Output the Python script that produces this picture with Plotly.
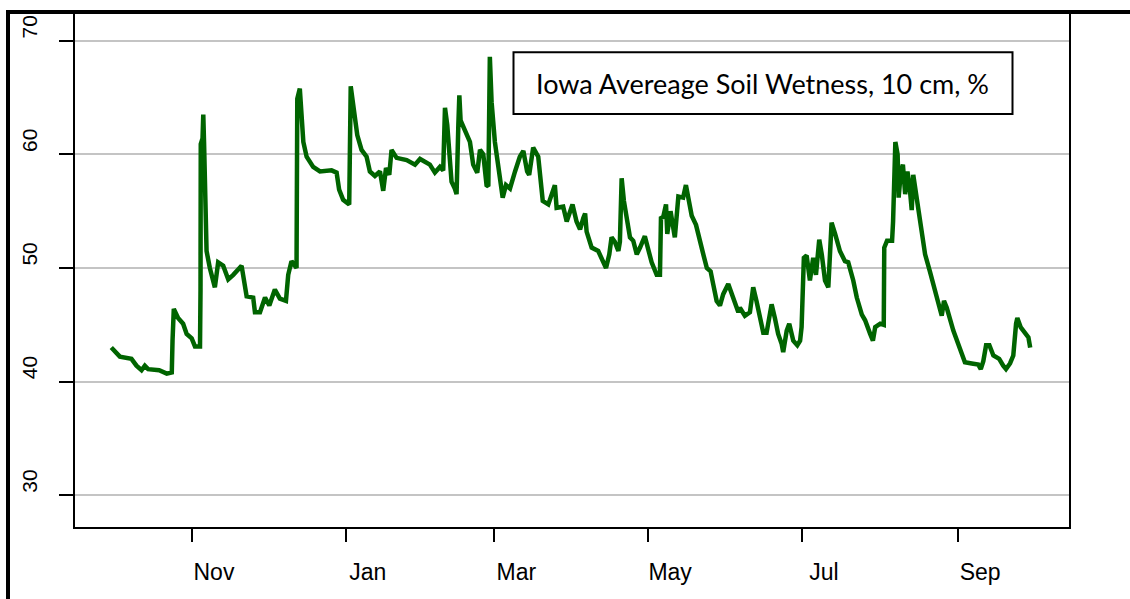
import pandas as pd
import plotly.graph_objects as go

# ---- data ----
start_date = "2018-09-30"
day_offsets = [
    0, 3.4, 8, 10, 12, 13.3, 14.6, 19, 22, 24, 24.3, 24.8, 26.5, 28.5, 29.9, 31.9, 33.2, 35.2,
    35.4, 35.5, 36.2, 36.5, 36.8, 37.3, 37.6, 37.8, 39.1, 41.1, 42.4, 44.4, 46.4, 48.4, 51.7,
    53.7, 56.3, 57, 59, 61, 62.7, 64.9, 66.9, 69.3, 70.2, 71.5, 73.5, 73.8, 74.8, 75.5, 76.2,
    77.5, 80.1, 82.8, 87.4, 89.4, 90.4, 92, 94.4, 95, 96.3, 97.6, 99.3, 101.3, 102.6, 104.6,
    106.6, 107.9, 109, 110.3, 111.2, 113.2, 117.2, 120.5, 122.5, 126.4, 128.4, 130.4, 131.7,
    132.4, 133.3, 134.1, 135, 136.3, 137, 137.7, 138.1, 138.6, 140.3, 142.3, 143.6, 145.2,
    146.3, 147.6, 148.9, 149.6, 150.2, 150.9, 152.2, 153.5, 155.3, 156.6, 158.2, 160.2, 162.1,
    163.5, 165, 165.8, 167.4, 169.4, 171.2, 173.4, 176, 176.7, 179.3, 180.7, 183, 184.6, 186,
    187.3, 188, 188.6, 190.6, 193.2, 195.2, 196.3, 197.6, 198.5, 199.8, 201.2, 201.8, 202.5,
    203.4, 204.5, 205.8, 207.1, 208.5, 209.8, 211.7, 213.1, 214.4, 216.4, 217.7, 218.1, 219,
    220.1, 220.6, 221.9, 223.6, 225, 226.9, 228, 228.9, 230.3, 232, 233.6, 234.9, 236.3, 237.8,
    238.8, 240.2, 241.5, 242.8, 244.8, 246.2, 247.5, 248.8, 249.4, 251.4, 253.4, 254.7, 256,
    257.4, 258.7, 260, 262, 263.3, 264.6, 266, 266.6, 268, 269, 270.6, 272.2, 273.3, 273.9,
    274.8, 275.9, 277.2, 278.5, 279.6, 280.9, 281.9, 283.2, 284.5, 285.2, 285.8, 287.2, 289.1,
    291.1, 292.4, 294.4, 295.8, 297.8, 299.1, 301.1, 302.2, 303.1, 305.1, 306.5, 306.7, 307.8,
    309.8, 310.2, 310.7, 311.1, 312, 312.4, 313.3, 314.1, 315, 315.9, 316.7, 317.6, 318.2,
    319.3, 320.2, 321.5, 322.9, 324.8, 326.2, 328.1, 329.5, 330.4, 331.5, 334.1, 336.8, 338.7,
    341.4, 344, 345, 346, 347.1, 348.4, 350, 352.3, 353.9, 355, 356.6, 357.9, 359, 359.5,
    360.8, 362.6, 363.9, 364.6,
]
wetness = [
    43.0, 42.2, 42.0, 41.4, 41.0, 41.4, 41.1, 41.0, 40.7, 40.8, 43.6, 46.4, 45.6, 45.1, 44.2, 43.8, 43.1, 43.1,
    48.0, 60.9, 61.4, 63.5, 61.1, 56.8, 54.7, 51.5, 50.0, 48.3, 50.5, 50.2, 49.0, 49.4, 50.2,
    47.5, 47.4, 46.1, 46.1, 47.4, 46.7, 48.1, 47.3, 47.1, 49.4, 50.6, 50.0, 64.9, 65.8, 63.8, 61.1,
    59.8, 58.9, 58.5, 58.6, 58.4, 56.9, 56.0, 55.6, 66.0, 64.1, 61.7, 60.4, 59.8, 58.5, 58.1,
    58.5, 56.8, 58.8, 58.2, 60.4, 59.7, 59.5, 59.1, 59.6, 59.1, 58.4, 58.9, 58.6,
    64.1, 62.6, 60.0, 57.6, 57.0, 56.5, 62.6, 65.2, 63.0, 62.2, 61.1, 59.1, 58.4,
    60.4, 60.0, 57.3, 57.2, 68.6, 64.6, 61.1, 58.7, 56.2, 57.3, 57.0, 58.5, 59.8,
    60.3, 58.5, 58.2, 60.6, 59.8, 55.9, 55.6, 57.3, 55.3, 55.4, 54.1, 55.6, 54.1, 53.4,
    54.4, 54.8, 53.2, 51.8, 51.5, 50.5, 50.0, 51.2, 52.7, 52.3, 51.5, 52.3, 57.9,
    55.9, 54.4, 52.7, 52.4, 51.2, 51.8, 52.8, 51.6, 50.5, 49.4, 49.4, 54.4, 54.5,
    55.6, 53.0, 55.0, 52.7, 56.3, 56.2, 57.3, 56.2, 54.6, 53.8, 52.1, 51.2, 50.0, 49.7,
    48.6, 47.1, 46.7, 47.7, 48.6, 47.7, 47.1, 46.1, 46.5, 45.8, 46.1, 48.3, 47.1,
    45.4, 44.3, 44.3, 46.8, 45.6, 44.2, 43.3, 42.6, 44.5, 45.1, 43.6, 43.2, 43.6, 44.8,
    50.9, 51.1, 48.9, 50.9, 49.4, 52.5, 51.2, 48.9, 48.3, 51.2, 54.0, 53.0, 51.5,
    50.6, 50.5, 48.9, 47.4, 45.9, 45.4, 44.2, 43.6, 44.8, 45.1, 45.0, 51.8, 52.4,
    52.4, 54.1, 57.6, 61.1, 60.0, 56.2, 58.5, 59.1, 56.5, 58.5, 57.3, 55.1, 58.2,
    56.5, 55.3, 53.2, 51.2, 49.7, 48.6, 47.1, 45.8, 47.1, 46.5, 44.5, 43.0, 41.7,
    41.6, 41.5, 41.1, 41.8, 43.2, 43.2, 42.3, 42.0, 41.4, 41.1, 41.6, 42.3, 45.1, 45.6,
    44.8, 44.2, 43.9, 43.0,
]
month_tick_dates = ["2018-11-01", "2019-01-01", "2019-03-01", "2019-05-01", "2019-07-01", "2019-09-01"]
month_tick_labels = ["Nov", "Jan", "Mar", "May", "Jul", "Sep"]
y_tick_values = [30, 40, 50, 60, 70]
title_text = "Iowa Avereage Soil Wetness, 10 cm, %"

# ---- figure ----
start = pd.Timestamp(start_date)
dates = [start + pd.Timedelta(days=d) for d in day_offsets]

fig = go.Figure()
fig.add_trace(go.Scatter(
    x=dates, y=wetness, mode="lines",
    line=dict(color="#006400", width=4.5),
    showlegend=False, hoverinfo="x+y",
))

W, H = 1130, 599
L, R, T, B = 75, 1069, 10, 527


def px_x(p):
    return (p - L) / (R - L)


def px_y(p):
    return (B - p) / (B - T)


tick_font = dict(family="Liberation Sans, Arial, sans-serif", size=21, color="black")

fig.update_layout(
    width=W, height=H,
    margin=dict(l=L, r=W - R, t=T, b=H - B, pad=0),
    paper_bgcolor="white", plot_bgcolor="white",
    xaxis=dict(
        type="date",
        range=[start - pd.Timedelta(days=14.4), start + pd.Timedelta(days=380.0)],
        tickvals=month_tick_dates, ticktext=month_tick_labels,
        ticks="outside", ticklen=13, tickwidth=1.5, tickcolor="black",
        showline=True, mirror=True, linecolor="black", linewidth=2,
        showgrid=False, zeroline=False,
        tickfont=dict(family="Liberation Sans, Arial, sans-serif", size=23, color="black"),
        ticklabelshift=22, ticklabelstandoff=10,
    ),
    yaxis=dict(
        range=[27.2, 72.54],
        tickvals=y_tick_values,
        ticks="outside", ticklen=14, tickwidth=1.5, tickcolor="black",
        showline=True, mirror=True, linecolor="black", linewidth=2,
        showgrid=True, gridcolor="#c4c4c4", gridwidth=1.5, zeroline=False,
        tickangle=-90, tickfont=tick_font,
        ticklabelshift=-11, ticklabelstandoff=14,
    ),
    shapes=[
        # outer frame (top and left edges)
        dict(type="line", xref="paper", yref="paper",
             x0=px_x(8), x1=px_x(W + 5), y0=px_y(10), y1=px_y(10),
             line=dict(color="black", width=4)),
        dict(type="line", xref="paper", yref="paper",
             x0=px_x(8), x1=px_x(8), y0=px_y(8), y1=px_y(H + 5),
             line=dict(color="black", width=4)),
        # title box
        dict(type="rect", xref="paper", yref="paper",
             x0=px_x(513.5), x1=px_x(1012.5), y0=px_y(112.5), y1=px_y(50.5),
             line=dict(color="black", width=2), fillcolor="white"),
    ],
    annotations=[
        dict(text=title_text, xref="paper", yref="paper",
             x=px_x(762), y=px_y(81.5), xanchor="center", yanchor="middle",
             showarrow=False,
             font=dict(family="Lato, Open Sans, sans-serif", size=27, color="black")),
    ],
)

fig.write_html("out.html", config={"displayModeBar": False},
               post_script="document.body.style.margin='0';")
